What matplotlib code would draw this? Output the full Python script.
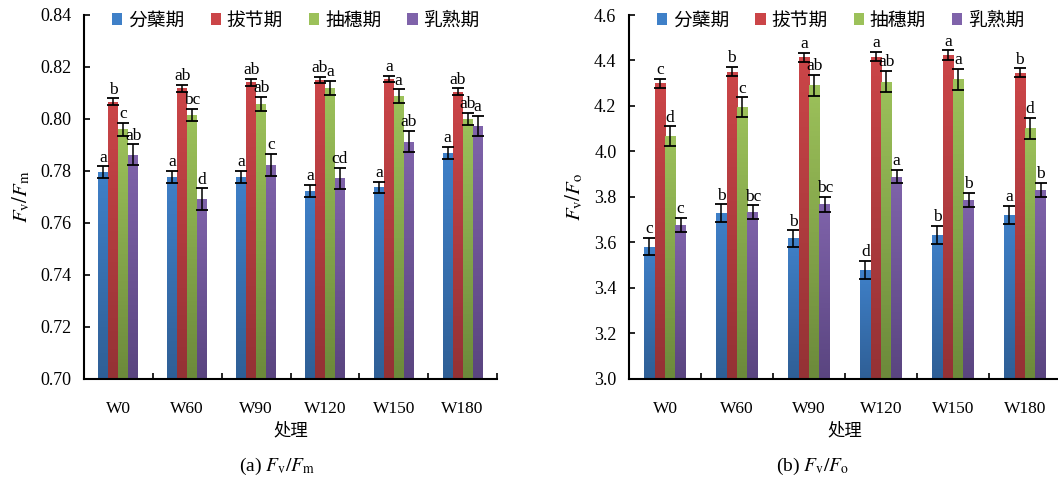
import matplotlib
matplotlib.use('Agg')
import matplotlib.pyplot as plt
import numpy as np
from matplotlib.colors import LinearSegmentedColormap
from matplotlib.patches import Patch

plt.rcParams['font.family'] = ['Liberation Serif', 'Noto Sans CJK SC']
plt.rcParams['mathtext.fontset'] = 'stix'

treatments = ['W0', 'W60', 'W90', 'W120', 'W150', 'W180']
stages = ['分蘖期', '拔节期', '抽穗期', '乳熟期']

# Fv/Fm, one list per growth stage
fvfm = [
    [0.7795, 0.7778, 0.7778, 0.7724, 0.7737, 0.7870],
    [0.8067, 0.8118, 0.8141, 0.8150, 0.8154, 0.8105],
    [0.7960, 0.8015, 0.8058, 0.8120, 0.8088, 0.8000],
    [0.7862, 0.7691, 0.7823, 0.7772, 0.7913, 0.7973],
]
fvfm_err = [
    [0.0023, 0.0023, 0.0023, 0.0024, 0.0022, 0.0022],
    [0.0013, 0.0014, 0.0013, 0.0012, 0.0013, 0.0013],
    [0.0026, 0.0024, 0.0026, 0.0026, 0.0026, 0.0025],
    [0.0040, 0.0042, 0.0042, 0.0041, 0.0041, 0.0039],
]
fvfm_sig = [
    ['a', 'a', 'a', 'a', 'a', 'a'],
    ['b', 'ab', 'ab', 'ab', 'a', 'ab'],
    ['c', 'bc', 'ab', 'a', 'a', 'ab'],
    ['ab', 'd', 'c', 'cd', 'ab', 'a'],
]

# Fv/Fo
fvfo = [
    [3.582, 3.728, 3.618, 3.479, 3.633, 3.721],
    [4.300, 4.351, 4.414, 4.417, 4.424, 4.346],
    [4.068, 4.194, 4.292, 4.307, 4.317, 4.102],
    [3.677, 3.733, 3.768, 3.889, 3.787, 3.831],
]
fvfo_err = [
    [0.037, 0.040, 0.036, 0.039, 0.039, 0.040],
    [0.020, 0.020, 0.020, 0.020, 0.020, 0.020],
    [0.043, 0.044, 0.046, 0.046, 0.045, 0.046],
    [0.030, 0.030, 0.032, 0.029, 0.030, 0.030],
]
fvfo_sig = [
    ['c', 'b', 'b', 'd', 'b', 'a'],
    ['c', 'b', 'a', 'a', 'a', 'b'],
    ['d', 'c', 'ab', 'ab', 'a', 'd'],
    ['c', 'bc', 'bc', 'a', 'b', 'b'],
]

# light (top) and dark (bottom) shade of each series
top_colors = ['#3f80c8', '#cb4548', '#9cc15a', '#7f63aa']
bottom_colors = ['#2f5f96', '#943235', '#6c8a3b', '#5a4580']

bar_w = 0.145


def draw_panel(ax, values, errs, sigs, ylim, yticks, fmt, ylabel, leg_x):
    x = np.arange(len(treatments))
    ax.set_xlim(-0.5, len(treatments) - 0.5)
    ax.set_ylim(*ylim)
    for k in range(len(stages)):
        xs = x + (k - 1.5) * bar_w
        bars = ax.bar(xs, values[k], bar_w, color=top_colors[k], zorder=2,
                      linewidth=0)
        cmap = LinearSegmentedColormap.from_list(
            'g%d' % k, [bottom_colors[k], top_colors[k]])
        grad = np.linspace(0, 1, 64).reshape(-1, 1)
        for b, v in zip(bars, values[k]):
            im = ax.imshow(grad, cmap=cmap, aspect='auto', origin='lower',
                           extent=[b.get_x(), b.get_x() + bar_w, ylim[0], v],
                           zorder=2.5)
            im.set_clip_path(b)
        ax.errorbar(xs, values[k], yerr=errs[k], fmt='none', ecolor='black',
                    elinewidth=1.1, capsize=4.5, capthick=1.3, zorder=3)
        for xi, v, e, s in zip(xs, values[k], errs[k], sigs[k]):
            ax.annotate(s, (xi, v + e), xytext=(0, 0.5),
                        textcoords='offset points', ha='center', va='bottom',
                        fontsize=12.5, zorder=4)
    ax.set_xlim(-0.5, len(treatments) - 0.5)
    ax.set_ylim(*ylim)
    ax.set_yticks(yticks)
    ax.set_yticklabels([fmt % t for t in yticks])
    ax.set_xticks(x)
    ax.set_xticklabels(treatments)
    ax.set_xticks(np.arange(len(treatments) + 1) - 0.5, minor=True)
    ax.tick_params(axis='y', direction='in', length=4, width=1.2,
                   labelsize=13, pad=9)
    ax.tick_params(axis='x', which='both', direction='in', length=4,
                   width=1.2, labelsize=12.5, pad=16)
    for side in ('top', 'right'):
        ax.spines[side].set_visible(False)
    for side in ('left', 'bottom'):
        ax.spines[side].set_linewidth(1.5)
    ax.set_xlabel('处理', fontsize=12.5, family='Noto Sans CJK SC', labelpad=3)
    ax.set_ylabel(ylabel, fontsize=15, labelpad=6)
    handles = [Patch(facecolor=top_colors[k], label=stages[k])
               for k in range(len(stages))]
    ax.legend(handles=handles, loc='upper left', bbox_to_anchor=(leg_x, 1.035),
              borderaxespad=0, ncol=4, frameon=False, handlelength=0.55,
              handleheight=0.55, handletextpad=0.3, columnspacing=1.4,
              prop={'family': 'Noto Sans CJK SC', 'size': 13.5})


fig = plt.figure(figsize=(10.58, 4.82), dpi=100)
ax1 = fig.add_axes([84 / 1058, 103 / 482, 413 / 1058, 364 / 482])
ax2 = fig.add_axes([629 / 1058, 103 / 482, 432 / 1058, 364 / 482])

draw_panel(ax1, fvfm, fvfm_err, fvfm_sig, (0.70, 0.84),
           np.arange(0.70, 0.841, 0.02), '%.2f',
           r'$\mathit{F}_\mathrm{v}/\mathit{F}_\mathrm{m}$', 0.05)
draw_panel(ax2, fvfo, fvfo_err, fvfo_sig, (3.0, 4.6),
           np.arange(3.0, 4.61, 0.2), '%.1f',
           r'$\mathit{F}_\mathrm{v}/\mathit{F}_\mathrm{o}$', 0.047)

fig.text(277 / 1058, 1 - 466 / 482,
         r'(a) $\mathit{F}_\mathrm{v}/\mathit{F}_\mathrm{m}$',
         ha='center', va='center', fontsize=14)
fig.text(812 / 1058, 1 - 466 / 482,
         r'(b) $\mathit{F}_\mathrm{v}/\mathit{F}_\mathrm{o}$',
         ha='center', va='center', fontsize=14)

fig.savefig('out.png', dpi=100)
